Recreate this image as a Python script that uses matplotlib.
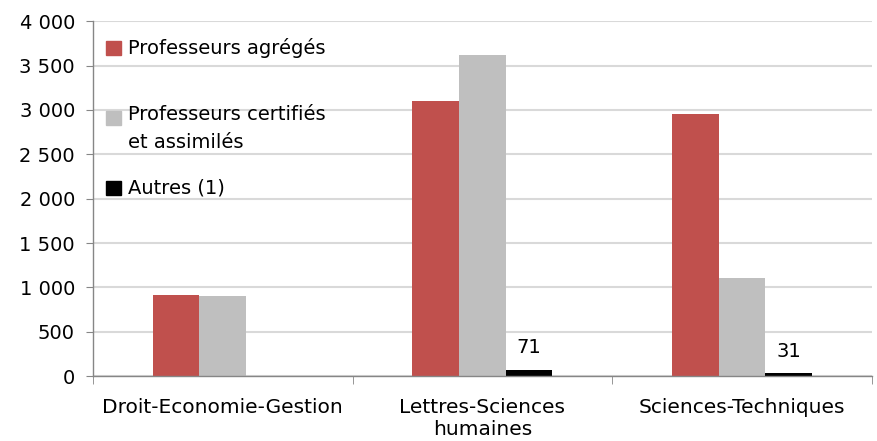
import numpy as np
import matplotlib
matplotlib.use("Agg")
import matplotlib.pyplot as plt
from matplotlib.patches import Rectangle
from matplotlib.ticker import FuncFormatter

categories = ["Droit-Economie-Gestion", "Lettres-Sciences\nhumaines", "Sciences-Techniques"]
series = ["Professeurs agrégés", "Professeurs certifiés\net assimilés", "Autres (1)"]
agreges = [915, 3095, 2950]
certifies = [905, 3615, 1110]
autres = [np.nan, 71, 31]
colors = ["#C0504D", "#BFBFBF", "#000000"]

plt.rcParams["font.family"] = ["DejaVu Sans"]
plt.rcParams["font.size"] = 14

fig = plt.figure(figsize=(8.77, 4.41), dpi=100)
ax = fig.add_axes([0.106, 0.147, 0.888, 0.805])

x = np.arange(len(categories))
w = 0.18
values = [agreges, certifies, autres]
for i, (vals, col) in enumerate(zip(values, colors)):
    bars = ax.bar(x + (i - 1) * w, vals, w, color=col, zorder=3)
    if i == 2:
        for b, v in zip(bars, vals):
            if not np.isnan(v):
                ax.annotate(f"{v:.0f}", (b.get_x() + b.get_width() / 2, v),
                            xytext=(0, 16), textcoords="offset points",
                            ha="center", va="center")

ax.set_xlim(-0.5, len(categories) - 0.5)
ax.set_ylim(0, 4000)
ax.set_yticks(np.arange(0, 4001, 500))
ax.yaxis.set_major_formatter(FuncFormatter(lambda v, p: f"{int(v):,}".replace(",", " ")))
ax.grid(axis="y", color="#D9D9D9", lw=1.5, zorder=0)

ax.set_xticks(x)
ax.set_xticklabels(categories, fontsize=14.5, linespacing=1.2)
ax.set_xticks(np.arange(-0.5, len(categories), 1), minor=True)
ax.tick_params(axis="x", which="major", length=0, pad=16)
ax.tick_params(axis="x", which="minor", length=6, color="#868686", direction="out")
ax.tick_params(axis="y", length=5, color="#868686", pad=8)

for s in ["top", "right"]:
    ax.spines[s].set_visible(False)
for s in ["left", "bottom"]:
    ax.spines[s].set_color("#868686")
    ax.spines[s].set_linewidth(1)
    ax.spines[s].set_zorder(4)

# legend drawn inside the plot, upper left
leg_y = [0.924, 0.727, 0.530]
for lab, col, yy in zip(series, colors, leg_y):
    ax.add_patch(Rectangle((0.017, yy - 0.02), 0.019, 0.04, transform=ax.transAxes,
                           color=col, clip_on=False, zorder=5))
    if "\n" in lab:
        ax.text(0.045, yy + 0.036, lab, transform=ax.transAxes, va="top",
                ha="left", linespacing=1.55, zorder=5)
    else:
        ax.text(0.045, yy, lab, transform=ax.transAxes, va="center",
                ha="left", zorder=5)

fig.savefig("out.png", dpi=100)
